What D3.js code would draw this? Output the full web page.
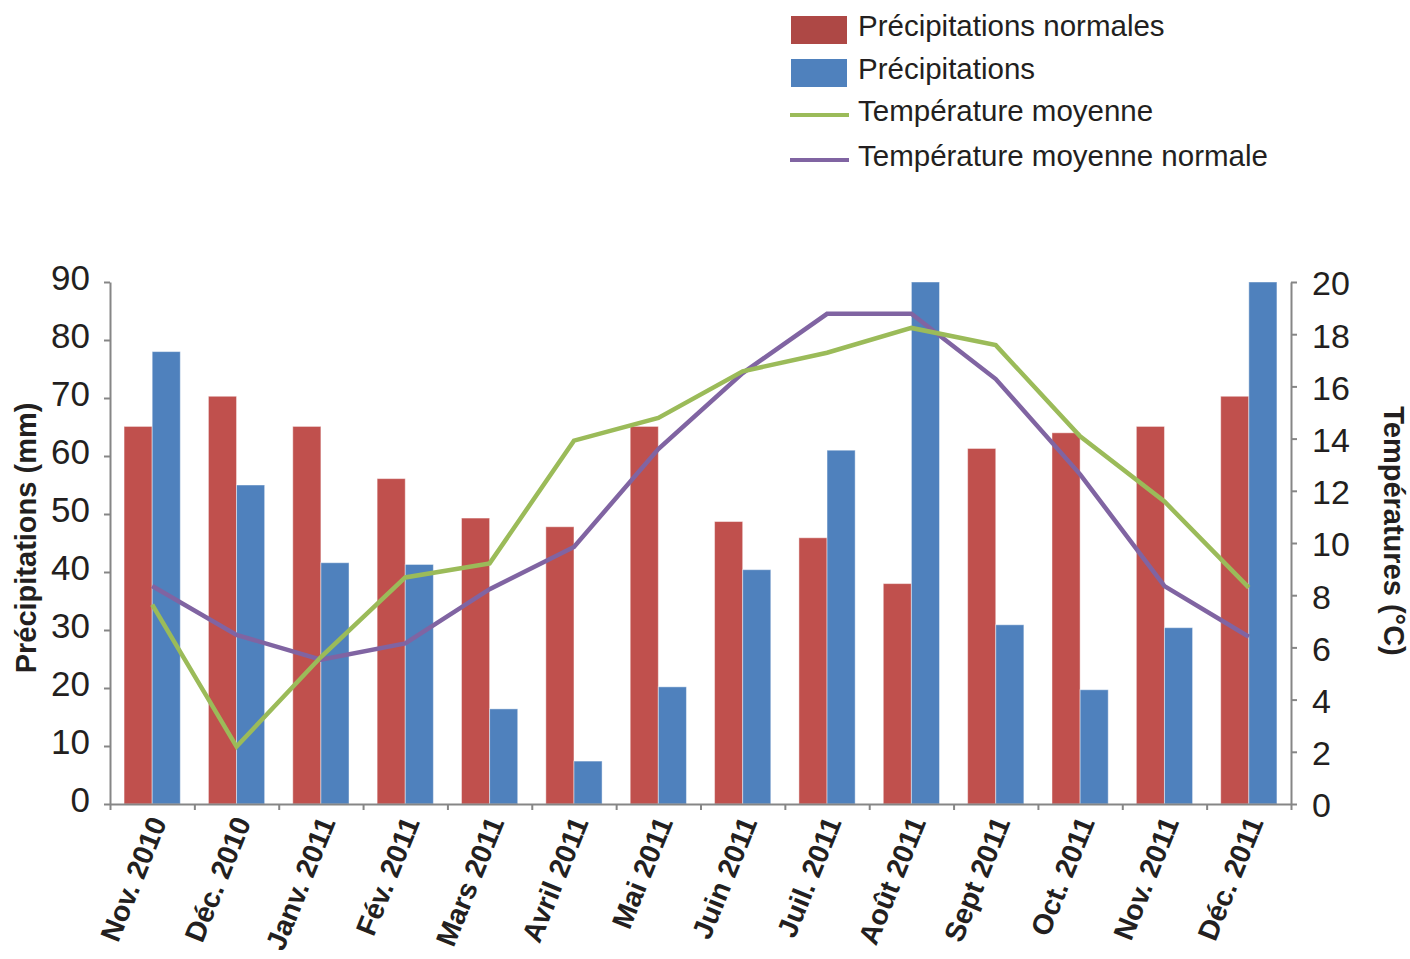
<!DOCTYPE html>
<html>
<head>
<meta charset="utf-8">
<script src="https://cdn.jsdelivr.net/npm/d3@7"></script>
<style>
	body { margin: 0; background: #fff; }
	svg { display: block; font-family: "Liberation Sans", Arial, sans-serif; }
	.axis path, .axis line { stroke: #868686; stroke-width: 2; }
	.axis text { fill: #231f20; }
</style>
</head>
<body>
<script>
(function() {

"use strict";

const MONTHS = [
	"Nov. 2010", "Déc. 2010", "Janv. 2011", "Fév. 2011", "Mars 2011", "Avril 2011", "Mai 2011",
	"Juin 2011", "Juil. 2011", "Août 2011", "Sept 2011", "Oct. 2011", "Nov. 2011", "Déc. 2011",
];

// mm
const PRECIP_NORMAL = [65.1, 70.3, 65.1, 56.1, 49.3, 47.8, 65.1, 48.7, 45.9, 38.0, 61.3, 64.0, 65.1, 70.3];
const PRECIP        = [78.0, 55.0, 41.6, 41.3, 16.4,  7.4, 20.2, 40.4, 61.0, 90.0, 30.9, 19.7, 30.4, 90.0];

// °C
const TEMP          = [7.64, 2.20, 5.63, 8.68, 9.22, 13.92, 14.79, 16.58, 17.29, 18.24, 17.58, 14.09, 11.59, 8.29];
const TEMP_NORMAL   = [8.35, 6.48, 5.53, 6.15, 8.23,  9.85, 13.60, 16.51, 18.78, 18.78, 16.28, 12.63,  8.35, 6.41];

const PRECIP_TICKS = [0, 10, 20, 30, 40, 50, 60, 70, 80, 90];
const TEMP_TICKS   = [0, 2, 4, 6, 8, 10, 12, 14, 16, 18, 20];

const LEGEND = [
	{label: "Précipitations normales",    type: "rect", color: "#ae4845"},
	{label: "Précipitations",             type: "rect", color: "#4f81bd"},
	{label: "Température moyenne",        type: "line", color: "#9bbb59"},
	{label: "Température moyenne normale", type: "line", color: "#8064a2"},
];

const width = 1410, height = 959;
const left = 110, right = 1291, top = 282, bottom = 804;

let svg = d3.select("body").append("svg")
	.attr("width", width)
	.attr("height", height);

let x = d3.scaleBand().domain(MONTHS).range([left, right]);
let sub = d3.scaleBand().domain(["normal", "precip"]).range([0, x.bandwidth()]).paddingOuter(0.5);
let yP = d3.scaleLinear().domain([0, 90]).range([bottom, top]);
let yT = d3.scaleLinear().domain([0, 20]).range([bottom, top]);

// bars
let groups = svg.append("g").attr("class", "bars")
	.selectAll("g")
	.data(MONTHS)
	.join("g")
		.attr("transform", d => `translate(${x(d)},0)`);

groups.append("rect")
	.attr("x", sub("normal"))
	.attr("width", sub.bandwidth())
	.attr("y", (d, i) => yP(PRECIP_NORMAL[i]))
	.attr("height", (d, i) => bottom - yP(PRECIP_NORMAL[i]))
	.attr("fill", "#c0504d")
	.attr("stroke", "#fff").attr("stroke-opacity", 0.45).attr("stroke-width", 1);

groups.append("rect")
	.attr("x", sub("precip"))
	.attr("width", sub.bandwidth())
	.attr("y", (d, i) => yP(PRECIP[i]))
	.attr("height", (d, i) => bottom - yP(PRECIP[i]))
	.attr("fill", "#4f81bd")
	.attr("stroke", "#fff").attr("stroke-opacity", 0.45).attr("stroke-width", 1);

// axes
let xTicks = d3.scaleLinear().domain([0, MONTHS.length]).range([left, right]);
svg.append("g")
	.attr("class", "axis x")
	.attr("transform", `translate(0,${bottom})`)
	.call(d3.axisBottom(xTicks).ticks(MONTHS.length).tickSize(6).tickSizeOuter(0).tickFormat(""));

svg.append("g")
	.attr("class", "axis y-left")
	.attr("transform", `translate(${left},0)`)
	.call(d3.axisLeft(yP).tickValues(PRECIP_TICKS).tickSize(6).tickSizeOuter(0).tickPadding(14))
	.call(g => g.selectAll("text").attr("font-size", 35).attr("dy", "0.22em"));

svg.append("g")
	.attr("class", "axis y-right")
	.attr("transform", `translate(${right},0)`)
	.call(d3.axisRight(yT).tickValues(TEMP_TICKS).tickSize(6).tickSizeOuter(0).tickPadding(15))
	.call(g => g.selectAll("text").attr("font-size", 34).attr("dy", "0.38em"));

svg.selectAll(".axis text").attr("font-family", null);

// month labels
svg.append("g")
	.selectAll("text")
	.data(MONTHS)
	.join("text")
		.attr("transform", d => `translate(${x(d) + x.bandwidth() / 2 + 15},822) rotate(-68)`)
		.attr("text-anchor", "end")
		.attr("font-size", 28.5)
		.attr("font-weight", "bold")
		.attr("fill", "#231f20")
		.text(d => d);

// lines
let cx = d => x(d) + x.bandwidth() / 2;

svg.append("path")
	.datum(TEMP_NORMAL)
	.attr("fill", "none")
	.attr("stroke", "#8064a2")
	.attr("stroke-width", 4.5)
	.attr("d", d3.line().x((d, i) => cx(MONTHS[i])).y(d => yT(d)));

svg.append("path")
	.datum(TEMP)
	.attr("fill", "none")
	.attr("stroke", "#9bbb59")
	.attr("stroke-width", 4.5)
	.attr("d", d3.line().x((d, i) => cx(MONTHS[i])).y(d => yT(d)));

// axis titles
svg.append("text")
	.attr("transform", `translate(36,538) rotate(-90)`)
	.attr("text-anchor", "middle")
	.attr("font-size", 29)
	.attr("font-weight", "bold")
	.attr("fill", "#231f20")
	.text("Précipitations (mm)");

svg.append("text")
	.attr("transform", `translate(1384,531) rotate(90)`)
	.attr("text-anchor", "middle")
	.attr("font-size", 29)
	.attr("font-weight", "bold")
	.attr("fill", "#231f20")
	.text("Températures (°C)");

// legend
let legend = svg.append("g")
	.selectAll("g")
	.data(LEGEND)
	.join("g")
		.attr("transform", (d, i) => `translate(790,${[30, 73, 115, 160][i]})`);

legend.filter(d => d.type == "rect").append("rect")
	.attr("x", 1).attr("y", -14)
	.attr("width", 56).attr("height", 28)
	.attr("fill", d => d.color);

legend.filter(d => d.type == "line").append("line")
	.attr("x1", 0).attr("x2", 59)
	.attr("stroke", d => d.color)
	.attr("stroke-width", 4);

legend.append("text")
	.attr("x", 68)
	.attr("y", -4)
	.attr("dy", "0.35em")
	.attr("font-size", 29.5)
	.attr("fill", "#231f20")
	.text(d => d.label);

})();
</script>
</body>
</html>
